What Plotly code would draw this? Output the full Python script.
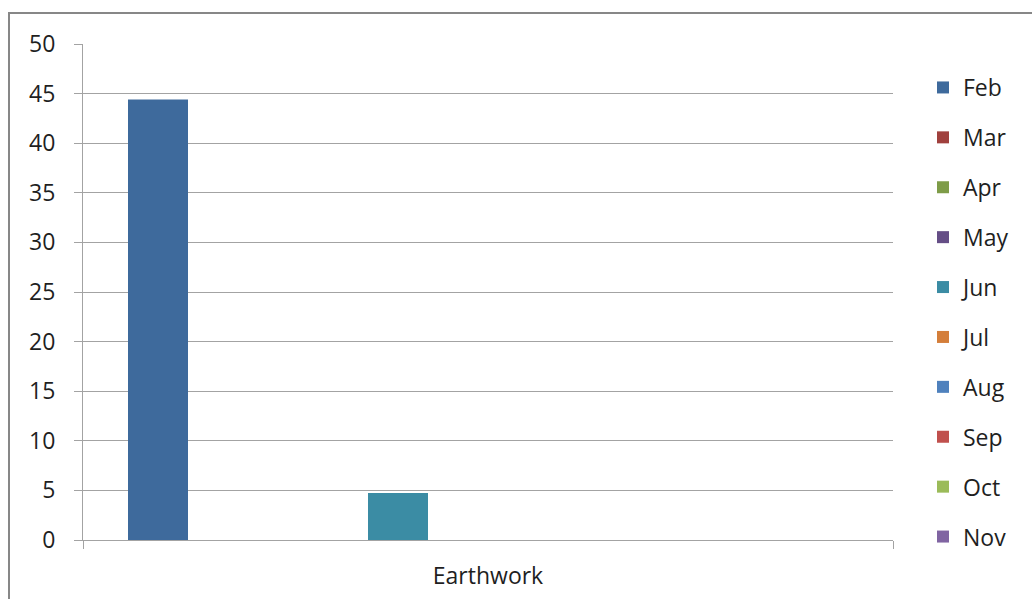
import plotly.graph_objects as go

categories = ["Earthwork"]
series_names = ["Feb", "Mar", "Apr", "May", "Jun", "Jul", "Aug", "Sep", "Oct", "Nov", "Dec", "Jan"]
series_values = [44.4, 0, 0, 0, 4.75, 0, 0, 0, 0, 0, 0, 0]
series_colors = ["#3E6A9C", "#A0403D", "#7E9C48", "#654E86", "#3B8CA4", "#D47E3A",
                 "#4F81BD", "#C0504D", "#9BBB59", "#8064A2", "#4BACC6", "#F79646"]
legend_shown = [True] * 10 + [False] * 2
y_ticks = [0, 5, 10, 15, 20, 25, 30, 35, 40, 45, 50]

FONT = "Open Sans"
FS = 23
TXT = "#1f1f1f"
GRID = "#A3A3A3"

fig = go.Figure()
for i, (name, val, col, show) in enumerate(zip(series_names, series_values, series_colors, legend_shown)):
    fig.add_trace(go.Bar(
        x=categories, y=[val], name=name,
        marker=dict(color=col, line=dict(width=0)),
        legendgroup=name, showlegend=show,
    ))

fig.update_layout(
    width=1032, height=599,
    margin=dict(l=83, r=139, t=44, b=59, autoexpand=False),
    paper_bgcolor="white", plot_bgcolor="white",
    barmode="group", bargap=1.5 / 13.5, bargroupgap=0,
    font=dict(family=FONT, size=FS, color=TXT),
    showlegend=True,
    legend=dict(
        xref="container", yref="container",
        x=923 / 1032, y=1 - 66 / 599, xanchor="left", yanchor="top",
        font=dict(family=FONT, size=FS, color=TXT),
        tracegroupgap=17, bgcolor="rgba(0,0,0,0)", borderwidth=0,
        traceorder="grouped", maxheight=590,
    ),
    xaxis=dict(
        type="category", showline=True, linecolor=GRID, linewidth=1,
        ticks="outside", tickson="boundaries", ticklen=8, tickcolor=GRID,
        showgrid=False, ticklabelstandoff=15, range=[-0.5, 0.5],
        tickfont=dict(family=FONT, size=FS, color=TXT),
    ),
    yaxis=dict(
        range=[0, 50], tickvals=y_ticks, showline=True, linecolor=GRID, linewidth=1,
        ticks="outside", ticklen=8, tickcolor=GRID,
        showgrid=True, gridcolor=GRID, gridwidth=1, zeroline=False,
        ticklabelstandoff=14,
        tickfont=dict(family=FONT, size=FS, color=TXT),
    ),
    shapes=[dict(
        type="rect", xref="paper", yref="paper", layer="above",
        x0=(9 - 83) / 810, x1=(1045 - 83) / 810,
        y0=(540 - 620) / 496, y1=(540 - 13) / 496,
        line=dict(color="#878787", width=2), fillcolor="rgba(0,0,0,0)",
    )],
)

fig.write_html("out.html")
